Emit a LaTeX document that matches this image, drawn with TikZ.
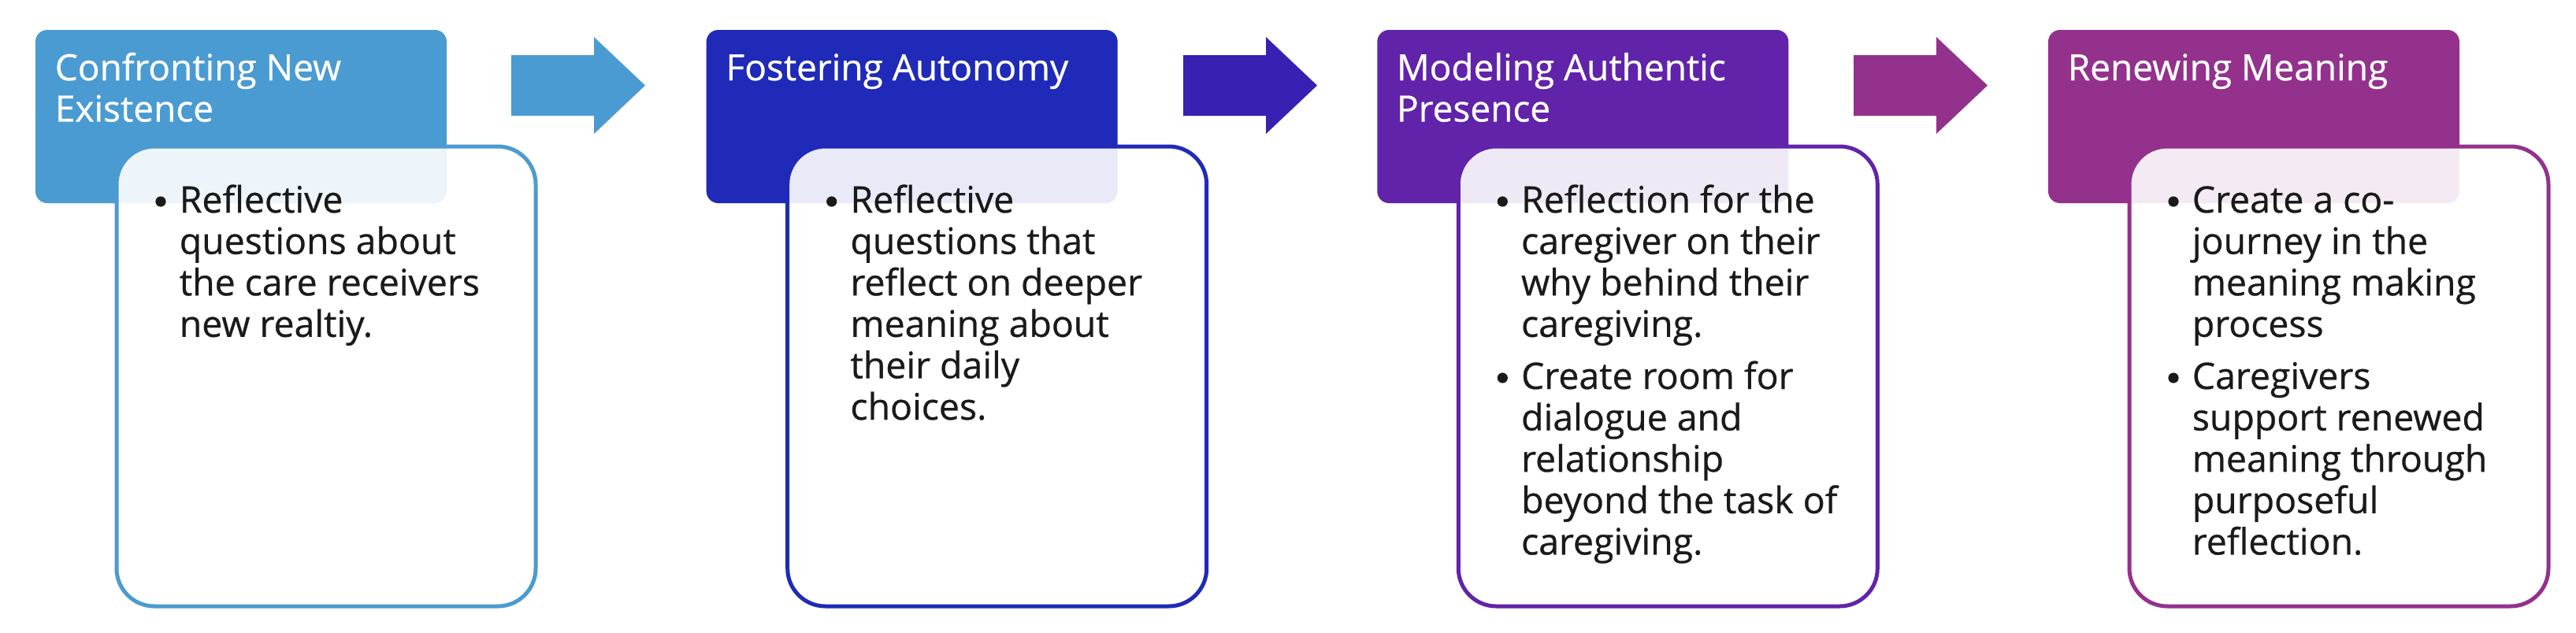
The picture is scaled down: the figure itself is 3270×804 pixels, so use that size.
\documentclass[tikz,border=0pt]{standalone}
\usepackage{fontspec}
\setmainfont{Open Sans}
\newfontfamily\bodyfont[FakeBold=0.6]{Open Sans}
\definecolor{cA}{HTML}{4A9BD1}
\definecolor{cB}{HTML}{1F2AB8}
\definecolor{cAB}{HTML}{3720B2}
\definecolor{cC}{HTML}{6123AA}
\definecolor{cD}{HTML}{93318D}
\definecolor{txt}{HTML}{1A1A1A}
\newcommand{\lines}[1]{\parbox[t]{170pt}{\raggedright #1}}
\begin{document}
\begin{tikzpicture}[x=0.25pt,y=-0.25pt]
\tikzset{
  hdr/.style={rounded corners=3.75pt},
  bodybox/.style={rounded corners=12pt, line width=1.25pt, fill=white, fill opacity=0.9},
  blockarrow/.style={draw=none},
  htext/.style={anchor=base west, inner sep=0pt, text=white, font=\bodyfont\fontsize{11.5}{13.1}\selectfont},
  btext/.style={anchor=base west, inner sep=0pt, text=txt, font=\bodyfont\fontsize{11.6}{13.15}\selectfont},
  dot/.style={circle, fill=txt, inner sep=0pt, minimum size=3.3pt}
}
\useasboundingbox[fill=white] (0,0) rectangle (3270,804);

% ---------- Group 1 ----------
\fill[hdr, cA] (45,38) rectangle (567,258);
\node[htext] (h1t) at (69,102) {\lines{Confronting New\\Existence}};
\draw[bodybox, draw=cA] (148,186) rectangle (680,770);
\node[dot] (d1a) at (204,256) {};
\node[btext] (t1a) at (227,270) {\lines{Reflective\\questions about\\the care receivers\\new realtiy.}};

% arrow 1
\fill[blockarrow, cA] (649,70) -- (754,70) -- (754,47) -- (819,108.5) -- (754,170) -- (754,147) -- (649,147) -- cycle;

% ---------- Group 2 ----------
\fill[hdr, cB] (896.7,38) rectangle (1418.7,258);
\node[htext] (h2t) at (920.7,102) {\lines{Fostering Autonomy}};
\draw[bodybox, draw=cB] (999.7,186) rectangle (1531.7,770);
\node[dot] (d2a) at (1055.7,256) {};
\node[btext] (t2a) at (1078.7,270) {\lines{Reflective\\questions that\\reflect on deeper\\meaning about\\their daily\\choices.}};

% arrow 2
\fill[blockarrow, cAB] (1502,70) -- (1607,70) -- (1607,47) -- (1672,108.5) -- (1607,170) -- (1607,147) -- (1502,147) -- cycle;

% ---------- Group 3 ----------
\fill[hdr, cC] (1748.3,38) rectangle (2270.3,258);
\node[htext] (h3t) at (1772.3,102) {\lines{Modeling Authentic\\Presence}};
\draw[bodybox, draw=cC] (1851.3,186) rectangle (2383.3,770);
\node[dot] (d3a) at (1907.3,256) {};
\node[btext] (t3a) at (1930.3,270) {\lines{Reflection for the\\caregiver on their\\why behind their\\caregiving.}};
\node[dot] (d3b) at (1907.3,480) {};
\node[btext] (t3b) at (1930.3,494) {\lines{Create room for\\dialogue and\\relationship\\beyond the task of\\caregiving.}};

% arrow 3
\fill[blockarrow, cD] (2353,70) -- (2458,70) -- (2458,47) -- (2523,108.5) -- (2458,170) -- (2458,147) -- (2353,147) -- cycle;

% ---------- Group 4 ----------
\fill[hdr, cD] (2600,38) rectangle (3122,258);
\node[htext] (h4t) at (2624,102) {\lines{Renewing Meaning}};
\draw[bodybox, draw=cD] (2703,186) rectangle (3235,770);
\node[dot] (d4a) at (2759,256) {};
\node[btext] (t4a) at (2782,270) {\lines{Create a co-\\journey in the\\meaning making\\process}};
\node[dot] (d4b) at (2759,480) {};
\node[btext] (t4b) at (2782,494) {\lines{Caregivers\\support renewed\\meaning through\\purposeful\\reflection.}};
\end{tikzpicture}
\end{document}
